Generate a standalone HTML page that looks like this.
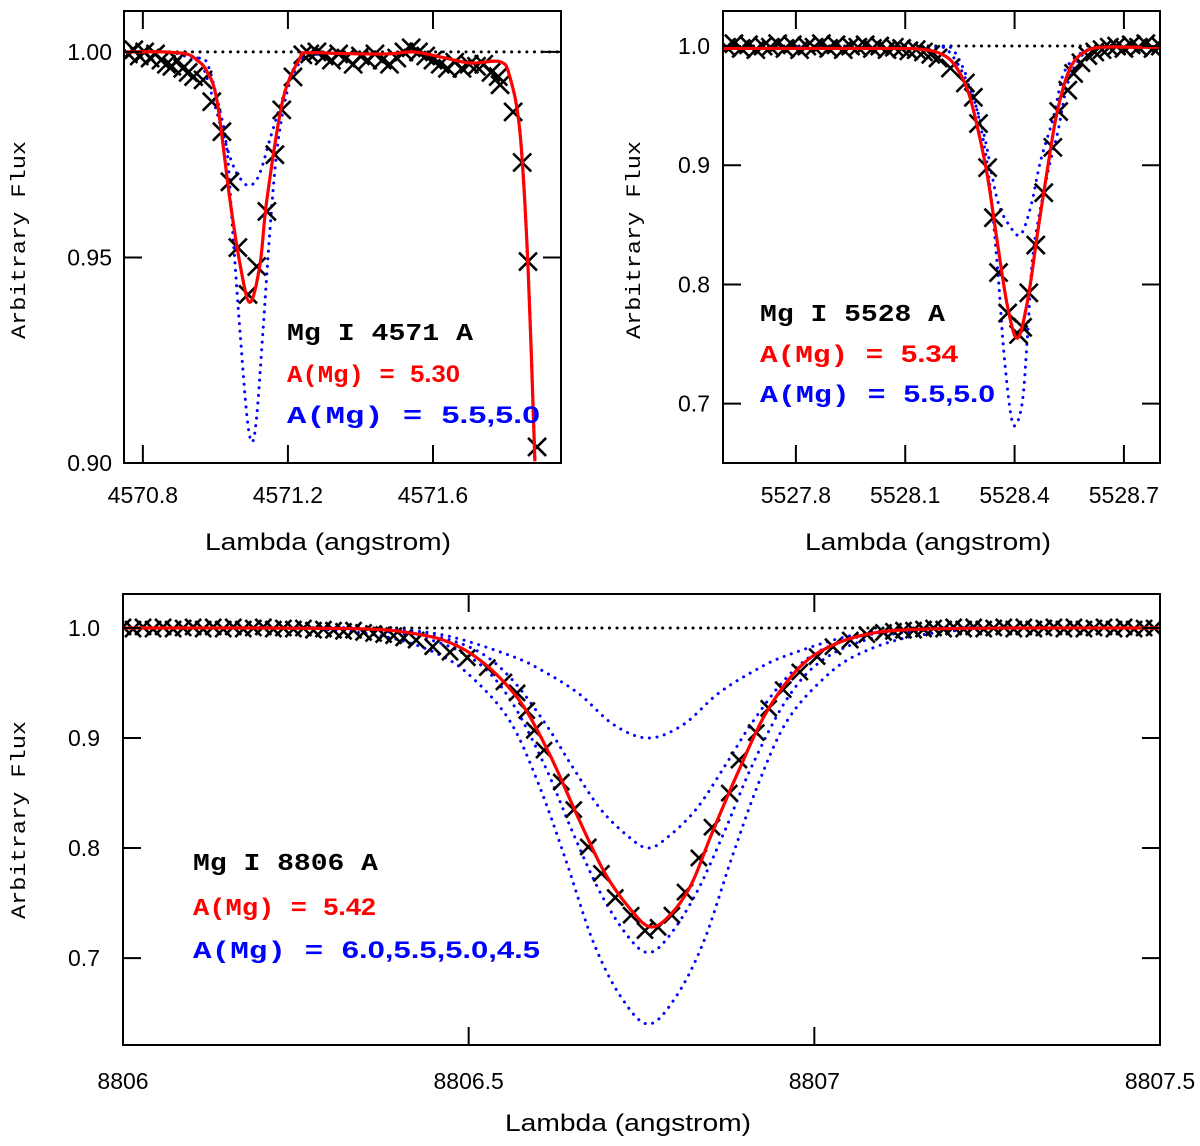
<!DOCTYPE html>
<html><head><meta charset="utf-8"><style>
html,body{margin:0;padding:0;background:#fff;}
svg{display:block;}
</style></head><body>
<svg id="chart" width="1200" height="1146" viewBox="0 0 1200 1146" xmlns="http://www.w3.org/2000/svg">
<defs>
<clipPath id="c1"><rect x="124" y="11" width="437" height="452"/></clipPath>
<clipPath id="c2"><rect x="723" y="11" width="437" height="452"/></clipPath>
<clipPath id="c3"><rect x="123" y="594" width="1037" height="451"/></clipPath>
</defs>
<g id="layer"></g>
<text x="328" y="550" font-family="Liberation Sans, sans-serif" font-size="24" text-anchor="middle" textLength="246" lengthAdjust="spacingAndGlyphs">Lambda (angstrom)</text>
<text x="928" y="550" font-family="Liberation Sans, sans-serif" font-size="24" text-anchor="middle" textLength="246" lengthAdjust="spacingAndGlyphs">Lambda (angstrom)</text>
<text x="628" y="1131" font-family="Liberation Sans, sans-serif" font-size="24" text-anchor="middle" textLength="246" lengthAdjust="spacingAndGlyphs">Lambda (angstrom)</text>
<text transform="translate(25,240) rotate(-90)" font-family="Liberation Mono, monospace" font-size="20" text-anchor="middle" textLength="198" lengthAdjust="spacingAndGlyphs">Arbitrary Flux</text>
<text transform="translate(640,240) rotate(-90)" font-family="Liberation Mono, monospace" font-size="20" text-anchor="middle" textLength="198" lengthAdjust="spacingAndGlyphs">Arbitrary Flux</text>
<text transform="translate(25,820) rotate(-90)" font-family="Liberation Mono, monospace" font-size="20" text-anchor="middle" textLength="198" lengthAdjust="spacingAndGlyphs">Arbitrary Flux</text>
<g font-weight="bold" font-size="24">
<text x="287" y="340" font-family="Liberation Mono, monospace" textLength="186" lengthAdjust="spacingAndGlyphs">Mg I 4571 A</text>
<text x="287" y="382" fill="#ff0000" textLength="173" lengthAdjust="spacingAndGlyphs"><tspan font-family="Liberation Mono, monospace">A(Mg) = </tspan><tspan font-family="Liberation Sans, sans-serif">5.30</tspan></text>
<text x="287" y="423" fill="#0000ff" textLength="253" lengthAdjust="spacingAndGlyphs"><tspan font-family="Liberation Mono, monospace">A(Mg) = </tspan><tspan font-family="Liberation Sans, sans-serif">5.5,5.0</tspan></text>
<text x="760" y="321" font-family="Liberation Mono, monospace" textLength="185" lengthAdjust="spacingAndGlyphs">Mg I 5528 A</text>
<text x="760" y="362" fill="#ff0000" textLength="198" lengthAdjust="spacingAndGlyphs"><tspan font-family="Liberation Mono, monospace">A(Mg) = </tspan><tspan font-family="Liberation Sans, sans-serif">5.34</tspan></text>
<text x="760" y="402" fill="#0000ff" textLength="235" lengthAdjust="spacingAndGlyphs"><tspan font-family="Liberation Mono, monospace">A(Mg) = </tspan><tspan font-family="Liberation Sans, sans-serif">5.5,5.0</tspan></text>
<text x="193" y="870" font-family="Liberation Mono, monospace" textLength="185" lengthAdjust="spacingAndGlyphs">Mg I 8806 A</text>
<text x="193" y="915" fill="#ff0000" textLength="183" lengthAdjust="spacingAndGlyphs"><tspan font-family="Liberation Mono, monospace">A(Mg) = </tspan><tspan font-family="Liberation Sans, sans-serif">5.42</tspan></text>
<text x="193" y="958" fill="#0000ff" textLength="347" lengthAdjust="spacingAndGlyphs"><tspan font-family="Liberation Mono, monospace">A(Mg) = </tspan><tspan font-family="Liberation Sans, sans-serif">6.0,5.5,5.0,4.5</tspan></text>
</g>
</svg>
<script>
// ---------- Panel 1 data (Mg I 4571) ----------
const p1Ticks = [4570.8, 4571.2, 4571.6];
const p1TickLabels = ["4570.8", "4571.2", "4571.6"];
const p1YTicks = [1.00, 0.95, 0.90];
const p1YTickLabels = ["1.00", "0.95", "0.90"];
const p1ObsW = [4570.76,4570.775,4570.79,4570.805,4570.82,4570.835,4570.85,4570.865,4570.88,4570.895,4570.91,4570.925,4570.94,4570.966,4570.990,4571.018,4571.040,4571.062,4571.090,4571.114,4571.142,4571.164,4571.183,4571.214,4571.241,
4571.26,4571.28,4571.30,4571.32,4571.34,4571.36,4571.38,4571.40,4571.42,4571.44,4571.46,4571.48,4571.50,4571.52,4571.54,4571.56,4571.58,4571.60,4571.62,4571.64,4571.66,4571.68,4571.70,4571.72,4571.74,4571.76,4571.78,
4571.785,4571.821,4571.846,4571.862,4571.887];
const p1ObsF = [0.9995,1.0005,0.999,1.0,0.9985,0.9995,0.998,0.997,0.9965,0.998,0.996,0.995,0.994,0.9932,0.9879,0.9806,0.9684,0.9524,0.9410,0.9478,0.9612,0.9750,0.9859,0.9939,0.9993,
0.9995,1.0,0.999,0.998,0.9995,0.9985,0.997,0.999,0.998,0.9995,0.998,0.997,0.9985,1.0,1.001,1.0,0.999,0.998,0.997,0.996,0.9975,0.996,0.997,0.9965,0.997,0.995,0.994,
0.992,0.9854,0.9731,0.9490,0.9039];
const p1FitW = [4570.748,4570.85,4570.92,4570.949,4570.975,4571.004,4571.040,4571.068,4571.095,4571.123,4571.142,4571.186,4571.233,4571.252,4571.35,4571.473,4571.545,4571.619,4571.702,4571.785,4571.812,4571.840,4571.862,4571.881];
const p1FitF = [1.0,1.0,0.9995,0.998,0.9955,0.9883,0.9641,0.9483,0.9391,0.9483,0.9641,0.9883,0.9985,0.9998,0.9996,0.9995,1.0,0.9988,0.9973,0.9976,0.9939,0.9803,0.9478,0.9004];
const p1ModAW = [4570.748,4570.85,4570.90,4570.935,4570.966,4571.040,4571.076,4571.101,4571.123,4571.150,4571.178,4571.206,4571.233,4571.288,4571.35,4571.473,4571.545,4571.619,4571.702,4571.785,4571.812,4571.840,4571.862,4571.881];
const p1ModAF = [1.0,1.0,0.9995,0.998,0.9964,0.9745,0.9684,0.9677,0.9706,0.9786,0.9867,0.9939,0.9981,0.9995,0.9996,0.9995,1.0,0.9988,0.9973,0.9976,0.9939,0.9803,0.9478,0.9004];
const p1ModBW = [4570.748,4570.85,4570.90,4570.945,4570.977,4571.012,4571.032,4571.048,4571.068,4571.087,4571.101,4571.114,4571.131,4571.150,4571.170,4571.197,4571.225,4571.252,4571.288,4571.35,4571.473,4571.545,4571.619,4571.702,4571.785,4571.812,4571.840,4571.862,4571.881];
const p1ModBF = [1.0,1.0,0.9995,0.9985,0.9973,0.9859,0.9762,0.9561,0.9318,0.9114,0.9051,0.9114,0.9318,0.9561,0.9762,0.9900,0.9964,0.9988,0.9995,0.9996,0.9995,1.0,0.9988,0.9973,0.9976,0.9939,0.9803,0.9478,0.9004];

// ---------- Panel 2 data (Mg I 5528) ----------
const p2Ticks = [5527.8, 5528.1, 5528.4, 5528.7];
const p2TickLabels = ["5527.8", "5528.1", "5528.4", "5528.7"];
const p2YTicks = [1.0, 0.9, 0.8, 0.7];
const p2YTickLabels = ["1.0", "0.9", "0.8", "0.7"];
const p2ObsW = [5527.61,5527.63,5527.65,5527.67,5527.69,5527.71,5527.73,5527.75,5527.77,5527.79,5527.81,5527.83,5527.85,5527.87,5527.89,5527.91,5527.93,5527.95,5527.97,5527.99,5528.01,5528.03,5528.05,5528.07,5528.09,5528.11,5528.13,5528.15,5528.17,5528.19,
5528.224,5528.265,5528.287,5528.301,5528.326,5528.342,5528.356,5528.381,5528.411,5528.422,5528.439,5528.458,5528.480,5528.505,5528.521,5528.546,5528.562,5528.582,5528.601,
5528.62,5528.64,5528.66,5528.68,5528.70,5528.72,5528.74,5528.76,5528.78,5528.80];
const p2ObsF = [0.999,1.002,0.998,1.001,0.997,1.0,0.999,1.002,0.998,1.001,0.997,1.0,0.999,1.002,0.998,1.001,0.997,1.0,0.999,1.001,0.998,1.0,0.997,0.999,0.998,0.996,0.997,0.995,0.993,0.990,
0.9815,0.969,0.957,0.935,0.898,0.856,0.810,0.776,0.758,0.764,0.793,0.833,0.877,0.915,0.945,0.963,0.977,0.986,0.992,
0.995,0.997,0.999,1.0,0.998,1.001,0.999,1.002,0.998,1.0];
const p2FitW = [5527.60,5527.90,5528.10,5528.15,5528.19,5528.232,5528.271,5528.298,5528.326,5528.353,5528.381,5528.408,5528.436,5528.463,5528.491,5528.518,5528.554,5528.601,5528.656,5528.72,5528.80];
const p2FitF = [0.998,0.998,0.998,0.997,0.9945,0.9857,0.9631,0.9321,0.8901,0.8347,0.7810,0.7550,0.7869,0.8431,0.8985,0.9463,0.9824,0.9966,0.9992,0.999,0.999];
const p2ModAW = [5527.60,5527.90,5528.10,5528.17,5528.216,5528.271,5528.315,5528.353,5528.389,5528.417,5528.444,5528.472,5528.507,5528.535,5528.582,5528.64,5528.72,5528.80];
const p2ModAF = [0.999,0.999,0.999,0.9985,0.9966,0.9690,0.9270,0.8708,0.848,0.842,0.8649,0.9044,0.9405,0.9773,0.9941,0.999,0.999,0.999];
const p2ModBW = [5527.60,5527.90,5528.10,5528.18,5528.232,5528.287,5528.326,5528.353,5528.370,5528.389,5528.403,5528.422,5528.436,5528.452,5528.491,5528.518,5528.546,5528.582,5528.617,5528.68,5528.80];
const p2ModBF = [0.999,0.999,0.999,0.9985,0.9966,0.9572,0.8985,0.8146,0.7450,0.6921,0.6820,0.7030,0.7592,0.8289,0.8935,0.9270,0.9690,0.9908,0.9983,0.999,0.999];

// ---------- Panel 3 data (Mg I 8806) ----------
const p3Ticks = [8806, 8806.5, 8807, 8807.5];
const p3TickLabels = ["8806", "8806.5", "8807", "8807.5"];
const p3YTicks = [1.0, 0.9, 0.8, 0.7];
const p3YTickLabels = ["1.0", "0.9", "0.8", "0.7"];
const p3ObsW = [8806.000,8806.0145,8806.029,8806.0435,8806.058,8806.0725,8806.087,8806.1015,8806.116,8806.1305,8806.145,8806.1595,8806.174,8806.1885,8806.203,8806.2175,8806.232,8806.2465,8806.261,8806.2755,8806.290,8806.3045,8806.319,8806.3335,8806.348,8806.3625,8806.377,8806.3915,8806.406,
8806.424,8806.448,8806.473,8806.498,8806.527,8806.551,8806.570,8806.584,8806.595,8806.609,8806.634,8806.652,8806.673,8806.692,8806.712,8806.735,8806.755,8806.774,8806.794,8806.813,8806.833,8806.852,8806.877,8806.891,8806.916,8806.934,8806.955,8806.979,8807.004,8807.027,8807.052,8807.076,
8807.100,8807.1145,8807.129,8807.1435,8807.158,8807.1725,8807.187,8807.2015,8807.216,8807.2305,8807.245,8807.2595,8807.274,8807.2885,8807.303,8807.3175,8807.332,8807.3465,8807.361,8807.3755,8807.390,8807.4045,8807.419,8807.4335,8807.448,8807.4625,8807.477,8807.4915];
const p3ObsF = [1.001,0.999,1.001,0.999,1.001,0.999,1.0,1.001,0.999,1.001,0.999,1.001,0.999,1.0,1.001,0.999,1.0,0.999,1.0,0.998,0.999,0.998,0.997,0.998,0.996,0.995,0.994,0.993,0.991,
0.989,0.983,0.978,0.973,0.964,0.951,0.941,0.925,0.907,0.889,0.860,0.835,0.801,0.777,0.755,0.739,0.725,0.728,0.739,0.760,0.791,0.819,0.850,0.880,0.905,0.927,0.944,0.960,0.974,0.983,0.989,0.994,
0.996,0.997,0.998,0.998,0.999,1.0,0.999,1.001,0.999,1.001,0.999,1.0,1.001,0.999,1.001,0.999,1.0,1.001,0.999,1.001,0.999,1.0,1.001,0.999,1.001,0.999,1.0,1.0];
const p3FitW = [8806.0,8806.2,8806.33,8806.385,8806.43,8806.463,8806.50,8806.54,8806.580,8806.619,8806.658,8806.697,8806.735,8806.764,8806.794,8806.823,8806.852,8806.891,8806.930,8806.979,8807.027,8807.086,8807.164,8807.3,8807.5];
const p3FitF = [1.0,1.0,0.9995,0.998,0.994,0.9891,0.978,0.958,0.9282,0.8827,0.8282,0.7773,0.7436,0.7282,0.7409,0.7682,0.8136,0.8709,0.9227,0.9645,0.9845,0.9955,0.9991,1.0,1.0];
const p3Mod1W = [8806.0,8806.2,8806.36,8806.46,8806.56,8806.61,8806.66,8806.71,8806.76,8806.81,8806.86,8806.91,8806.96,8807.06,8807.16,8807.3,8807.5];
const p3Mod1F = [1.0,1.0,0.999,0.994,0.975,0.96,0.94,0.912,0.900,0.912,0.94,0.96,0.975,0.994,0.999,1.0,1.0];
const p3Mod2W = [8806.0,8806.2,8806.34,8806.44,8806.51,8806.56,8806.61,8806.65,8806.69,8806.73,8806.76,8806.79,8806.83,8806.87,8806.91,8806.96,8807.01,8807.08,8807.18,8807.3,8807.5];
const p3Mod2F = [1.0,1.0,1.0,0.994,0.98,0.955,0.914,0.874,0.836,0.811,0.800,0.811,0.836,0.874,0.914,0.955,0.98,0.994,1.0,1.0,1.0];
const p3Mod3W = [8806.0,8806.2,8806.34,8806.44,8806.51,8806.56,8806.61,8806.65,8806.69,8806.73,8806.76,8806.79,8806.83,8806.87,8806.91,8806.96,8807.01,8807.08,8807.18,8807.3,8807.5];
const p3Mod3F = [1.0,1.0,0.999,0.99,0.97,0.935,0.875,0.815,0.76,0.72,0.705,0.72,0.76,0.815,0.875,0.935,0.97,0.99,0.999,1.0,1.0];
const p3Mod4W = [8806.0,8806.12,8806.26,8806.38,8806.46,8806.51,8806.56,8806.60,8806.64,8806.68,8806.72,8806.76,8806.80,8806.84,8806.88,8806.92,8806.96,8807.01,8807.06,8807.14,8807.26,8807.4,8807.5];
const p3Mod4F = [1.0,1.0,1.0,0.992,0.975,0.952,0.915,0.86,0.79,0.715,0.665,0.640,0.665,0.715,0.79,0.86,0.915,0.952,0.975,0.992,1.0,1.0,1.0];

const NS = 'http://www.w3.org/2000/svg';
const layer = document.getElementById('layer');
function el(tag, attrs, parent) {
  const e = document.createElementNS(NS, tag);
  for (const k in attrs) e.setAttribute(k, attrs[k]);
  (parent || layer).appendChild(e);
  return e;
}
function mkScale(d0, d1, r0, r1) { return v => r0 + (v - d0) * (r1 - r0) / (d1 - d0); }
function splinePath(pts) {
  if (!pts.length) return '';
  let d = 'M' + pts[0][0].toFixed(2) + ',' + pts[0][1].toFixed(2);
  for (let i = 0; i < pts.length - 1; i++) {
    const p0 = pts[i - 1] || pts[i], p1 = pts[i], p2 = pts[i + 1], p3 = pts[i + 2] || pts[i + 1];
    const c1x = p1[0] + (p2[0] - p0[0]) / 6, c1y = p1[1] + (p2[1] - p0[1]) / 6;
    const c2x = p2[0] - (p3[0] - p1[0]) / 6, c2y = p2[1] - (p3[1] - p1[1]) / 6;
    d += 'C' + c1x.toFixed(2) + ',' + c1y.toFixed(2) + ' ' + c2x.toFixed(2) + ',' + c2y.toFixed(2) + ' ' + p2[0].toFixed(2) + ',' + p2[1].toFixed(2);
  }
  return d;
}

function panel(cfg) {
  const sx = mkScale(cfg.w0, cfg.w1, cfg.x0, cfg.x1);
  const sy = mkScale(cfg.f0, cfg.f1, cfg.y0, cfg.y1);
  const g = el('g', {'clip-path': 'url(#' + cfg.clip + ')'});
  
  
  const cont = el('line', {x1: cfg.x0, x2: cfg.x1, y1: sy(1.0), y2: sy(1.0), stroke: '#000', 'stroke-width': 3, 'stroke-dasharray': '0.1 7.5', 'stroke-linecap': 'round'}, g);
  
  
  cfg.models.forEach((m, i) => {
    const p = el('path', {d: splinePath(m[0].map((w, j) => [sx(w), sy(m[1][j])])), fill: 'none', stroke: '#0000ff', 'stroke-width': 3, 'stroke-dasharray': '0.1 7.5', 'stroke-linecap': 'round'}, g);
    
    
  });
  const obs = el('g', {stroke: '#000', 'stroke-width': 2.6}, g);
  
  
  const h = cfg.cross;
  cfg.obsW.forEach((w, i) => {
    const x = sx(w), y = sy(cfg.obsF[i]);
    const c = el('path', {d: `M${x - h},${y - h}L${x + h},${y + h}M${x - h},${y + h}L${x + h},${y - h}`}, obs);
    
    
  });
  const fit = el('path', {d: splinePath(cfg.fitW.map((w, j) => [sx(w), sy(cfg.fitF[j])])), fill: 'none', stroke: '#ff0000', 'stroke-width': 3.2}, g);
  
  
  const fr = el('rect', {x: cfg.x0, y: cfg.y0, width: cfg.x1 - cfg.x0, height: cfg.y1 - cfg.y0, fill: 'none', stroke: '#000', 'stroke-width': 2});
  
  
  cfg.xt.forEach((t, i) => {
    const x = sx(t);
    if (x > cfg.x0 + 2 && x < cfg.x1 - 2) {
      const tb = el('line', {x1: x, x2: x, y1: cfg.y1, y2: cfg.y1 - cfg.tl, stroke: '#000', 'stroke-width': 2});
      
      
      const tt = el('line', {x1: x, x2: x, y1: cfg.y0, y2: cfg.y0 + cfg.tl, stroke: '#000', 'stroke-width': 2});
      
      
    }
    const lb = el('text', {x: x, y: cfg.xlabY, 'text-anchor': 'middle', 'font-family': 'Liberation Sans, sans-serif', 'font-size': 23});
    
    
    lb.textContent = cfg.xtl[i];
  });
  cfg.yt.forEach((t, i) => {
    const y = sy(t);
    const tl = el('line', {x1: cfg.x0, x2: cfg.x0 + cfg.tl, y1: y, y2: y, stroke: '#000', 'stroke-width': 2});
    
    
    const tr = el('line', {x1: cfg.x1, x2: cfg.x1 - cfg.tl, y1: y, y2: y, stroke: '#000', 'stroke-width': 2});
    
    
    const lb = el('text', {x: cfg.ylabX, y: y + 8, 'text-anchor': 'end', 'font-family': 'Liberation Sans, sans-serif', 'font-size': 23});
    
    
    lb.textContent = cfg.ytl[i];
  });
}

panel({id: 'p1', clip: 'c1', x0: 124, x1: 561, y0: 11, y1: 463, w0: 4570.748, w1: 4571.953, f0: 1.00995, f1: 0.90,
  xt: p1Ticks, xtl: p1TickLabels, yt: p1YTicks, ytl: p1YTickLabels, xlabY: 503, ylabX: 112, tl: 18, cross: 9,
  obsW: p1ObsW, obsF: p1ObsF, fitW: p1FitW, fitF: p1FitF, models: [[p1ModAW, p1ModAF], [p1ModBW, p1ModBF]]});
panel({id: 'p2', clip: 'c2', x0: 723, x1: 1160, y0: 11, y1: 463, w0: 5527.600, w1: 5528.799, f0: 1.0294, f1: 0.6502,
  xt: p2Ticks, xtl: p2TickLabels, yt: p2YTicks, ytl: p2YTickLabels, xlabY: 503, ylabX: 710, tl: 18, cross: 9,
  obsW: p2ObsW, obsF: p2ObsF, fitW: p2FitW, fitF: p2FitF, models: [[p2ModAW, p2ModAF], [p2ModBW, p2ModBF]]});
panel({id: 'p3', clip: 'c3', x0: 123, x1: 1160, y0: 594, y1: 1045, w0: 8806, w1: 8807.5, f0: 1.0309, f1: 0.621,
  xt: p3Ticks, xtl: p3TickLabels, yt: p3YTicks, ytl: p3YTickLabels, xlabY: 1089, ylabX: 100, tl: 18, cross: 8,
  obsW: p3ObsW, obsF: p3ObsF, fitW: p3FitW, fitF: p3FitF, models: [[p3Mod1W, p3Mod1F], [p3Mod2W, p3Mod2F], [p3Mod3W, p3Mod3F], [p3Mod4W, p3Mod4F]]});
</script>
</body></html>
